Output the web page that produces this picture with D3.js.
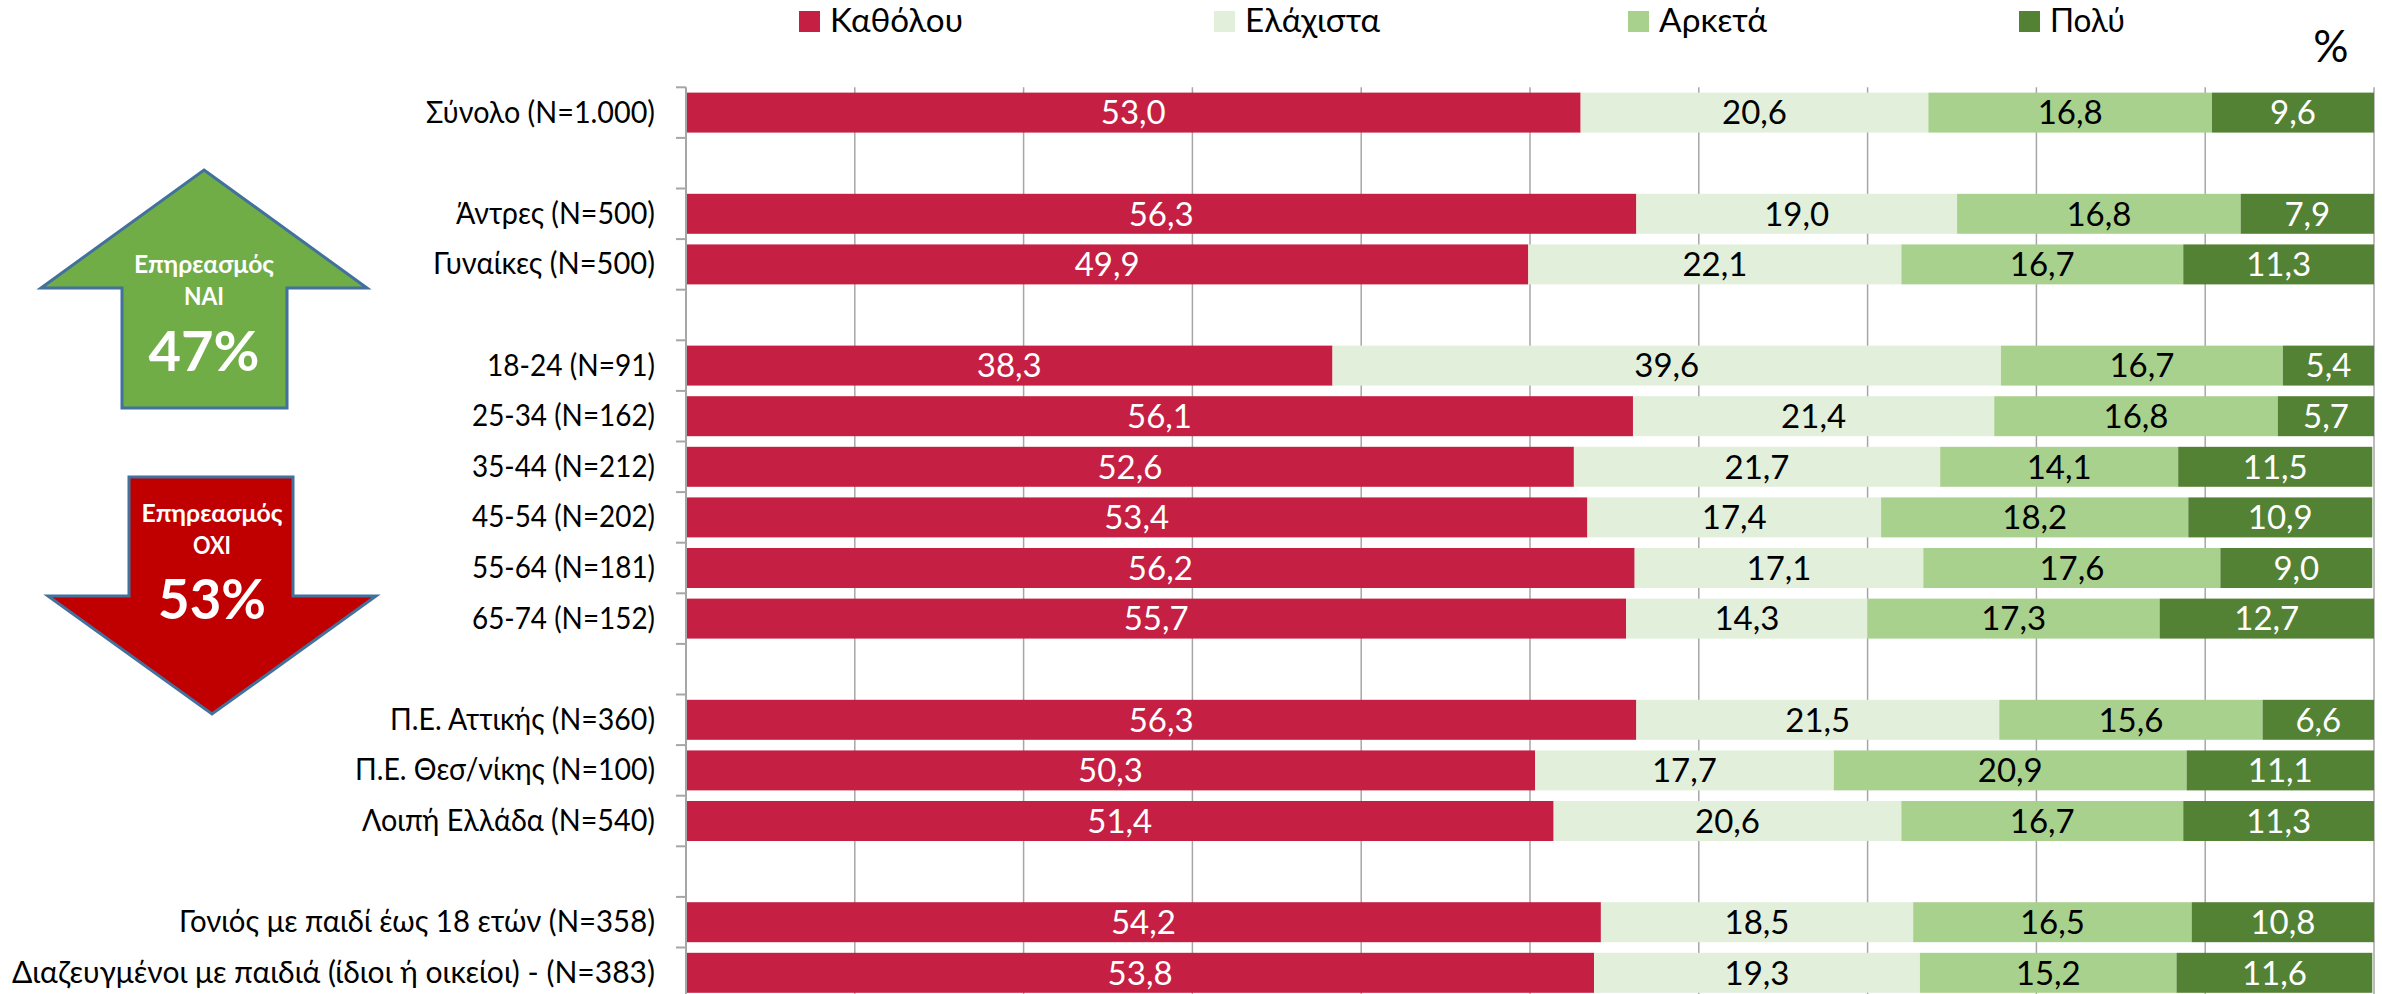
<!DOCTYPE html>
<html>
<head>
<meta charset="utf-8">
<script src="https://cdn.jsdelivr.net/npm/d3@7"></script>
<style>
  html, body { margin: 0; padding: 0; background: #fff; }
  svg { display: block; }
  text { font-family: Lato, sans-serif; }
</style>
</head>
<body>
<div id="map"></div>
<script>
// κατηγορίες (τα κενά είναι οι κενές γραμμές ανάμεσα στις ομάδες)
const categories = [
    "Σύνολο (N=1.000)", "",
    "Άντρες (N=500)", "Γυναίκες (N=500)", "",
    "18-24 (N=91)", "25-34 (N=162)", "35-44 (N=212)", "45-54 (N=202)", "55-64 (N=181)", "65-74 (N=152)", "",
    "Π.Ε. Αττικής (N=360)", "Π.Ε. Θεσ/νίκης (N=100)", "Λοιπή Ελλάδα (N=540)", "",
    "Γονιός με παιδί έως 18 ετών (N=358)", "Διαζευγμένοι με παιδιά (ίδιοι ή οικείοι) - (N=383)"
];
const seriesNames = ["Καθόλου", "Ελάχιστα", "Αρκετά", "Πολύ"];
const katholou = [53.0, null, 56.3, 49.9, null, 38.3, 56.1, 52.6, 53.4, 56.2, 55.7, null, 56.3, 50.3, 51.4, null, 54.2, 53.8];
const elaxista = [20.6, null, 19.0, 22.1, null, 39.6, 21.4, 21.7, 17.4, 17.1, 14.3, null, 21.5, 17.7, 20.6, null, 18.5, 19.3];
const arketa   = [16.8, null, 16.8, 16.7, null, 16.7, 16.8, 14.1, 18.2, 17.6, 17.3, null, 15.6, 20.9, 16.7, null, 16.5, 15.2];
const poly     = [9.6, null, 7.9, 11.3, null, 5.4, 5.7, 11.5, 10.9, 9.0, 12.7, null, 6.6, 11.1, 11.3, null, 10.8, 11.6];
const seriesValues = [katholou, elaxista, arketa, poly];
const xTicks = [0, 10, 20, 30, 40, 50, 60, 70, 80, 90, 100];

const colors = ["#c51f43", "#e2efda", "#a9d18e", "#548235"];
const labelColors = ["#fff", "#000", "#000", "#fff"];
const legendX = [799, 1214, 1628, 2019];

// πλάτη κειμένων σε px: η Lato είναι φαρδύτερη από το κείμενο του πρωτότυπου
const categoryWidths = [229, 0, 199, 222, 0, 168, 183, 183, 183, 183, 183, 0, 265, 300, 293, 0, 476, 643];
const legendWidths = [133, 135, 108, 75];

const width = 2382, height = 994;

const svg = d3.select("#map")
    .append("svg")
    .attr("width", width)
    .attr("height", height);

const x = d3.scaleLinear().domain([0, 100]).range([686, 2374]);
const y = d3.scaleBand()
    .domain(d3.range(categories.length))
    .range([87.3, 998.1])
    .paddingInner(0.21)
    .paddingOuter(0.105);

// Πλέγμα
svg.selectAll("line.grid")
    .data(xTicks.slice(1))
    .enter()
    .append("line")
    .attr("class", "grid")
    .attr("x1", d => x(d)).attr("x2", d => x(d))
    .attr("y1", 87.3).attr("y2", height)
    .attr("stroke", "#a6a6a6")
    .attr("stroke-width", 1.5);

// Στοίβες
const rows = categories.map((c, i) => {
    const row = { i };
    seriesNames.forEach((s, k) => row[s] = seriesValues[k][i] || 0);
    return row;
});
const stacked = d3.stack().keys(seriesNames)(rows);

const groups = svg.selectAll("g.series")
    .data(stacked)
    .enter()
    .append("g")
    .attr("class", "series");

groups.selectAll("rect")
    .data(d => d.filter(p => p[1] > p[0]))
    .enter()
    .append("rect")
    .attr("x", d => x(d[0]))
    .attr("width", d => x(d[1]) - x(d[0]))
    .attr("y", d => y(d.data.i))
    .attr("height", y.bandwidth())
    .attr("fill", (d, i, n) => colors[stacked.indexOf(d3.select(n[i].parentNode).datum())]);

groups.selectAll("text")
    .data(d => d.filter(p => p[1] > p[0]))
    .enter()
    .append("text")
    .attr("x", d => (x(d[0]) + x(d[1])) / 2)
    .attr("y", d => y(d.data.i) + y.bandwidth() / 2)
    .attr("dy", "0.36em")
    .attr("text-anchor", "middle")
    .attr("font-size", 33)
    .attr("fill", (d, i, n) => labelColors[stacked.indexOf(d3.select(n[i].parentNode).datum())])
    .text(d => (d[1] - d[0]).toFixed(1).replace(".", ","));

// Άξονας Υ
const yAxis = svg.append("g")
    .attr("transform", "translate(686,0)")
    .call(d3.axisLeft(y).tickSize(0).tickPadding(31).tickFormat(i => categories[i]));
yAxis.select(".domain").remove();
yAxis.selectAll("text")
    .attr("font-size", 31)
    .attr("font-family", "Lato, sans-serif")
    .attr("fill", "#000")
    .filter(i => categories[i] !== "")
    .attr("textLength", i => categoryWidths[i])
    .attr("lengthAdjust", "spacingAndGlyphs");

svg.append("line")
    .attr("x1", 686).attr("x2", 686)
    .attr("y1", 87.3).attr("y2", height)
    .attr("stroke", "#a6a6a6").attr("stroke-width", 2);

svg.selectAll("line.ytick")
    .data(d3.range(categories.length))
    .enter()
    .append("line")
    .attr("class", "ytick")
    .attr("x1", 676).attr("x2", 686)
    .attr("y1", d => y(d) - y.step() * y.paddingInner() / 2)
    .attr("y2", d => y(d) - y.step() * y.paddingInner() / 2)
    .attr("stroke", "#a6a6a6").attr("stroke-width", 2);

// Υπόμνημα
const legend = svg.selectAll("g.legend")
    .data(seriesNames)
    .enter()
    .append("g")
    .attr("class", "legend")
    .attr("transform", (d, i) => `translate(${legendX[i]},11)`);
legend.append("rect").attr("width", 21).attr("height", 21).attr("fill", (d, i) => colors[i]);
legend.append("text")
    .attr("x", 31).attr("y", 21)
    .attr("font-size", 32)
    .attr("textLength", (d, i) => legendWidths[i])
    .attr("lengthAdjust", "spacingAndGlyphs")
    .text(d => d);

svg.append("text")
    .attr("x", 2331).attr("y", 62)
    .attr("text-anchor", "middle")
    .attr("font-size", 44)
    .text("%");

// Βέλη
const arrowUp = d3.line()([[204, 170], [367, 288], [287, 288], [287, 408], [122, 408], [122, 288], [41, 288]]) + "Z";
const arrowDown = d3.line()([[129, 477], [293, 477], [293, 596], [376, 596], [212, 714], [48, 596], [129, 596]]) + "Z";

function arrow(path, fill, cx, lines) {
    svg.append("path")
        .attr("d", path)
        .attr("fill", fill)
        .attr("stroke", "#41719c")
        .attr("stroke-width", 3)
        .attr("stroke-linejoin", "miter");
    lines.forEach(l => {
        svg.append("text")
            .attr("x", cx).attr("y", l[1])
            .attr("dy", "0.36em")
            .attr("text-anchor", "middle")
            .attr("font-size", l[2])
            .attr("font-weight", 700)
            .attr("fill", "#fff")
            .attr("textLength", l[3])
            .attr("lengthAdjust", "spacingAndGlyphs")
            .text(l[0]);
    });
}
arrow(arrowUp, "#70ad47", 204, [["Επηρεασμός", 264, 25, 140], ["ΝΑΙ", 296, 25, 40], ["47%", 351, 56, 111]]);
arrow(arrowDown, "#c00000", 212, [["Επηρεασμός", 513, 25, 141], ["ΟΧΙ", 545, 25, 38], ["53%", 599, 56, 108]]);
</script>
</body>
</html>
